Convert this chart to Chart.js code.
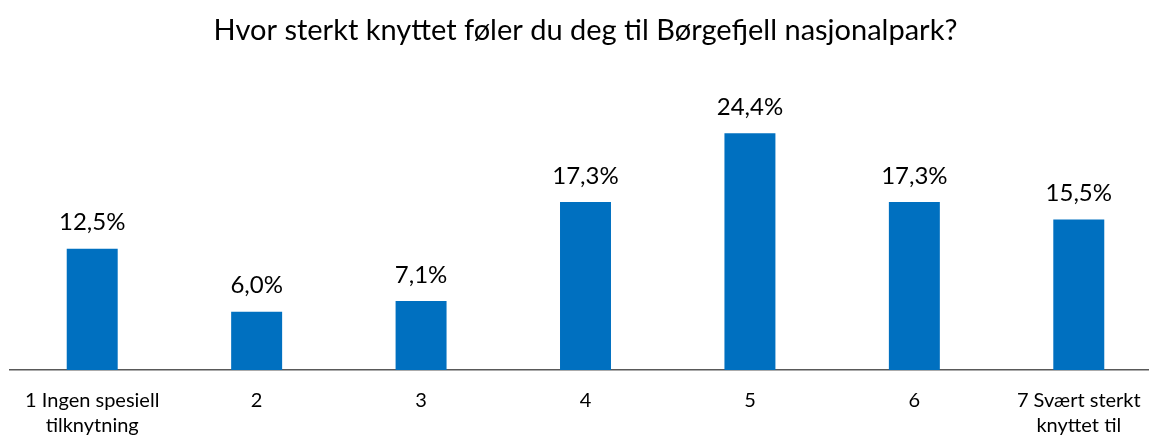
<!DOCTYPE html>
<html>
<head>
<meta charset="utf-8">
<script src="https://cdn.jsdelivr.net/npm/chart.js@4/dist/chart.umd.min.js"></script>
<style>
  html, body { margin: 0; padding: 0; background: #fff; overflow: hidden; }
  #wrap { width: 1161px; height: 435px; }
</style>
</head>
<body>
<div id="wrap"><canvas id="kjennskap"></canvas></div>
<script>
// categories (x axis)
var categories = [
  ['1 Ingen spesiell', 'tilknytning'],
  '2', '3', '4', '5', '6',
  ['7 Svært sterkt', 'knyttet til']
];
// share of answers, percent
var values = [12.5, 6.0, 7.1, 17.3, 24.4, 17.3, 15.5];

var title = 'Hvor sterkt knyttet føler du deg til Børgefjell nasjonalpark?';
var barColor = '#0070C0';
var fontName = 'Lato, "Open Sans", sans-serif';

// writes "12,5%" above every bar
var valueLabels = {
  id: 'valueLabels',
  afterDatasetsDraw: function(chart) {
    var c = chart.ctx;
    var meta = chart.getDatasetMeta(0);
    c.save();
    c.font = '24px ' + fontName;
    c.fillStyle = '#000';
    c.textAlign = 'center';
    c.textBaseline = 'bottom';
    meta.data.forEach(function(bar, i) {
      var txt = values[i].toFixed(1).replace('.', ',') + '%';
      c.fillText(txt, bar.x, bar.y - 14);
    });
    c.restore();
  }
};

var ctx = document.getElementById('kjennskap');
var myChart = new Chart(ctx, {
  type: 'bar',
  data: {
    labels: categories,
    datasets: [{
      data: values,
      backgroundColor: barColor,
      barPercentage: 0.31,
      categoryPercentage: 1.0
    }]
  },
  options: {
    responsive: true,
    maintainAspectRatio: false,
    animation: false,
    layout: { padding: { left: 10, right: 0, top: 0, bottom: 0 } },
    plugins: {
      legend: { display: false },
      tooltip: { enabled: false },
      title: {
        display: true,
        text: title,
        color: '#000',
        font: { family: fontName, size: 29, weight: 'normal' },
        padding: { top: 13, bottom: 31 }
      }
    },
    scales: {
      x: {
        grid: { display: false },
        border: { display: true, color: '#595959', width: 1.5 },
        ticks: {
          color: '#000',
          padding: 10,
          maxRotation: 0,
          autoSkip: false,
          font: { family: fontName, size: 20, lineHeight: 1.25 }
        },
        afterFit: function(s) { s.height = 65; }
      },
      y: {
        display: false,
        min: 0,
        max: 30
      }
    }
  },
  plugins: [valueLabels]
});
</script>
</body>
</html>
